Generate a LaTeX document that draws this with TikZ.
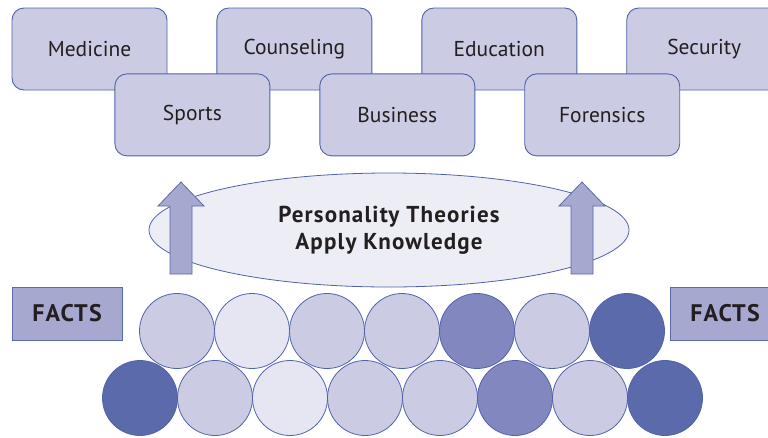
\documentclass[tikz,border=0pt]{standalone}
\usepackage{fontspec}
\setmainfont{PT Sans}
\newfontfamily\widebold[LetterSpace=5]{PT Sans Bold}
\usetikzlibrary{shapes.geometric, positioning}

\definecolor{edge}{RGB}{80,98,170}
\definecolor{ink}{RGB}{35,31,32}
\definecolor{boxfill}{RGB}{203,204,228}
\definecolor{ovalfill}{RGB}{237,237,246}
\definecolor{arrowfill}{RGB}{166,168,208}
\definecolor{pale}{RGB}{230,230,243}
\definecolor{mid}{RGB}{203,204,228}
\definecolor{deep}{RGB}{130,135,191}
\definecolor{dark}{RGB}{91,106,170}

\tikzset{
  field/.style={draw=edge, fill=boxfill, line width=0.9pt, rounded corners=12pt,
    minimum width=155pt, minimum height=82pt, inner sep=0pt,
    text=ink, font=\fontsize{21.5}{24}\selectfont},
  facts/.style={draw=dark, fill=arrowfill, line width=0.9pt,
    minimum width=110pt, minimum height=53pt, inner sep=0pt,
    text=ink, font=\fontsize{24}{26}\widebold},
  ball/.style={circle, draw=edge, line width=0.8pt, minimum size=75pt, inner sep=0pt},
  uparrow/.style={draw=dark, fill=arrowfill, line width=0.8pt, line join=miter}
}

\begin{document}
\begin{tikzpicture}[x=1pt, y=-1pt]
\useasboundingbox (0,0) rectangle (768,437);
\clip (0,0) rectangle (768,437);
% fields of application
\node[field] (Medicine) at (89.5,49) {Medicine};
\node[field, right=49pt of Medicine] (Counseling) {Counseling};
\node[field, right=49pt of Counseling] (Education) {Education};
\node[field, right=49pt of Education] (Security) {Security};
\node[field, below right=-17pt and -53pt of Medicine] (Sports) {Sports};
\node[field, right=49pt of Sports] (Business) {Business};
\node[field, right=49pt of Business] (Forensics) {Forensics};
% theories
\node[ellipse, draw=edge, fill=ovalfill, line width=0.8pt, minimum width=480pt, minimum height=114pt,
  align=center, text=ink, font=\fontsize{23}{27}\widebold] (Theory) at (389,230)
  {Personality Theories\\Apply Knowledge};
\foreach \cx in {181,582}
  \filldraw[uparrow] (\cx-11,274) -- (\cx-11,206) -- (\cx-23,206) -- (\cx,182)
    -- (\cx+23,206) -- (\cx+11,206) -- (\cx+11,274) -- cycle;
% facts
\node[facts] (FactsL) at (67,313.5) {FACTS};
\node[facts] (FactsR) at (725,313.5) {FACTS};
\foreach \x/\c [count=\i] in {177/mid, 252/pale, 327/mid, 402/mid, 477/deep, 552/mid, 627/dark}
  \node[ball, fill=\c] (t\i) at (\x,331) {};
\foreach \x/\c [count=\i] in {140/dark, 215/mid, 290/pale, 365/mid, 440/mid, 515/deep, 590/mid, 665/dark}
  \node[ball, fill=\c] (b\i) at (\x,398) {};
\end{tikzpicture}
\end{document}
